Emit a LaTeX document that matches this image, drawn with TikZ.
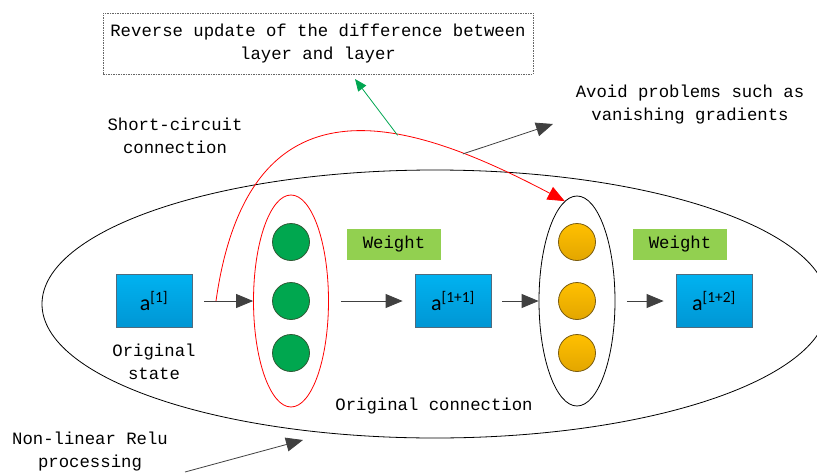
\documentclass[tikz,border=0pt]{standalone}
\usepackage{fontspec}
\newfontfamily\monof{Liberation Mono}
\newfontfamily\boxf{Carlito}
\usetikzlibrary{shapes.geometric,arrows.meta,positioning,calc}
\definecolor{CellBlue}{HTML}{00B2F0}
\definecolor{CellBlueDark}{HTML}{0096D4}
\definecolor{CellEdge}{HTML}{4F6B7E}
\definecolor{UnitGreen}{HTML}{00A74F}
\definecolor{UnitGreenEdge}{HTML}{2F5A35}
\definecolor{UnitGold}{HTML}{FFC000}
\definecolor{UnitGoldDark}{HTML}{E3A600}
\definecolor{UnitGoldEdge}{HTML}{7A5C10}
\definecolor{WeightGreen}{HTML}{92D050}
\definecolor{ArrowGray}{HTML}{404040}
\definecolor{SkipGreen}{HTML}{00A651}

\begin{document}
\begin{tikzpicture}[x=1pt,y=-1pt,line width=0.8pt,
    txt/.style={font=\monof\fontsize{17.3}{23}\selectfont,align=center,inner sep=0pt},
    abox/.style={draw=CellEdge,top color=CellBlue,bottom color=CellBlueDark,
      minimum width=76pt,minimum height=53pt,inner sep=0pt,
      font=\boxf\fontsize{22}{22}\selectfont},
    unitg/.style={circle,draw=UnitGreenEdge,fill=UnitGreen,minimum size=37pt,inner sep=0pt},
    unity/.style={circle,draw=UnitGoldEdge,top color=UnitGold,bottom color=UnitGoldDark,
      minimum size=37pt,inner sep=0pt},
    wbox/.style={txt,fill=WeightGreen,minimum width=94pt,minimum height=31pt},
    layer/.style={ellipse,draw,inner sep=0pt},
    arr/.style={draw=ArrowGray,-{Triangle[length=17pt,width=14pt]}},
  ]
  \useasboundingbox (0,0) rectangle (817,474);
  \clip (0,0) rectangle (817,474);

  % whole block
  \draw (435,304) ellipse [x radius=393, y radius=134];
  \node[txt] (orig) at (434,406) {Original connection};

  % input cell
  \node[abox] (a1) at (154,301) {a\textsuperscript{[1]}};
  \node[txt,below=16pt of a1] (st) {Original\\state};

  % first layer
  \node[layer,draw=red,minimum width=75pt,minimum height=212pt] (hid1) at (291,301) {};
  \foreach \y [count=\i] in {242,301,353}
    \node[unitg] (g\i) at (291,\y) {};
  \node[wbox] (w1) at (394,244) {Weight};
  \node[abox] (a2) at (453,301) {a\textsuperscript{[1+1]}};

  % second layer
  \node[layer,minimum width=76pt,minimum height=210pt] (hid2) at (577,301) {};
  \foreach \y [count=\i] in {242,301,353}
    \node[unity] (y\i) at (577,\y) {};
  \node[wbox] (w2) at (680,244) {Weight};
  \node[abox] (a3) at (714,301) {a\textsuperscript{[1+2]}};

  % forward arrows
  \draw[arr] ([xshift=12pt]a1.east) -- (hid1.west);
  \draw[arr] ([xshift=31pt]g2.east) -- ([xshift=-12pt]a2.west);
  \draw[arr] ([xshift=11pt]a2.east) -- (hid2.west);
  \draw[arr] ([xshift=31pt]y2.east) -- ([xshift=-12pt]a3.west);

  % skip connection
  \coordinate (skip) at (216,301);
  \draw[red,-{Triangle[length=17pt,width=14pt]}] (skip)
    .. controls (250,60) and (420,125) .. (hid2.97)
    coordinate[pos=0.62] (back) coordinate[pos=0.77] (avoid);

  % notes
  \node[txt,draw=gray!80!black,dash pattern=on 1.5pt off 1pt,line width=0.6pt,
    minimum width=430pt,minimum height=61pt] (rev) at (318,43.5)
    {Reverse update of the difference between\\layer and layer};
  \coordinate (revin) at (355,79);
  \draw[SkipGreen,-{Triangle[length=12pt,width=10pt]}] (back) -- (revin);

  \node[txt] (sc) at (175,135.5) {Short-circuit\\connection};
  \node[txt] (vg) at (690,104.5) {Avoid problems such as\\vanishing gradients};
  \coordinate (vgin) at (553,124);
  \draw[arr] (avoid) -- (vgin);

  \node[txt] (relu) at (90,451.5) {Non-linear Relu\\processing};
  \coordinate (relu0) at (185,472);
  \coordinate (relu1) at (303,440);
  \draw[arr] (relu0) -- (relu1);
\end{tikzpicture}
\end{document}
